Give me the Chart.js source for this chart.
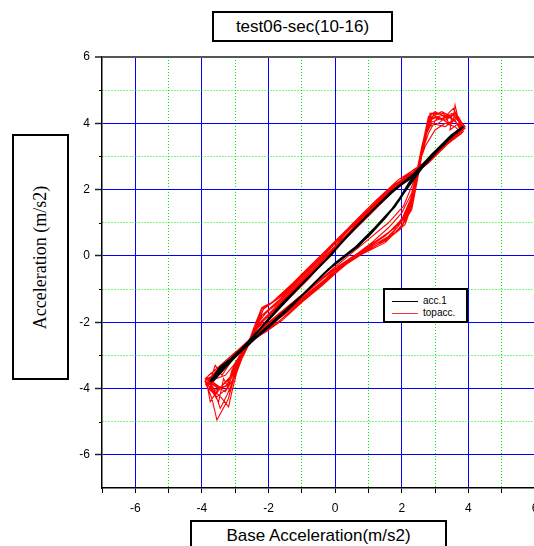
<!DOCTYPE html>
<html><head><meta charset="utf-8">
<script src="https://cdn.jsdelivr.net/npm/chart.js@4"></script>
<style>
html,body{margin:0;padding:0;background:#fff;overflow:hidden;width:534px;height:546px;}
#wrap{position:absolute;left:0;top:0;width:570px;height:546px;}
.box{position:absolute;border:2px solid #000;background:#fff;box-sizing:border-box;display:flex;align-items:center;justify-content:center;color:#000;}
.sans{font-family:'Liberation Sans',Arial,sans-serif;font-size:17px;font-weight:normal;}
.serif{font-family:'Liberation Serif','Times New Roman',serif;font-size:18px;font-weight:normal;}
.lg{position:absolute;font-family:'Liberation Sans',Arial,sans-serif;font-size:10px;line-height:10px;}
.ln{position:absolute;height:1px;width:26px;}
</style></head><body>
<div id="wrap"><canvas id="c"></canvas></div>
<div class="box sans" style="left:212px;top:11px;width:181px;height:31px;">test06-sec(10-16)</div>
<div class="box" style="left:12px;top:134px;width:57px;height:246px;"><span id="ytl" class="serif" style="transform:rotate(-90deg);white-space:nowrap;">Acceleration (m/s2)</span></div>
<div class="box sans" style="left:190px;top:520px;width:257px;height:40px;align-items:flex-start;padding-top:4px;">Base Acceleration(m/s2)</div>
<div class="box" style="left:383px;top:288px;width:85px;height:35px;display:block;">
  <div class="ln" style="left:7px;top:11px;background:#000;"></div><div class="lg" style="left:38px;top:6px;">acc.1</div>
  <div class="ln" style="left:7px;top:23px;background:#ff3030;"></div><div class="lg" style="left:38px;top:18px;">topacc.</div>
</div>
<script>
// size the serif y-axis title so its length is close to the reference (about 166 px)
(function(){
  const s = document.getElementById('ytl');
  const m = document.createElement('canvas').getContext('2d');
  m.font = "100px 'Liberation Serif', 'Times New Roman', serif";
  const w = m.measureText(s.textContent).width;
  const base = w > 0 ? Math.min(20, Math.max(15, 100 * 166 / w)) : 20;
  s.style.fontSize = (base * 0.9).toFixed(2) + 'px';
  s.style.fontFamily = "'Liberation Serif', 'Times New Roman', serif";
})();

const xTickRange = [-7, 6];
const yTickRange = [-7, 6];
const seriesNames = ['acc.1', 'topacc.'];

const blackLoop1 = [[-3.75,-3.8],[-3.3,-3.3],[-2.8,-2.85],[-2.3,-2.4],[-2.0,-2.15],[-1.4,-1.6],[-0.8,-1.0],[-0.2,-0.4],[0.0,-0.25],[0.5,0.15],[1.0,0.6],[1.5,1.15],[1.9,1.65],[2.25,2.2],[2.7,2.8],[3.2,3.3],[3.6,3.7],[3.85,3.9],[3.5,3.65],[3.0,3.15],[2.5,2.6],[2.2,2.3],[1.7,1.95],[1.2,1.45],[0.6,0.85],[0.1,0.3],[-0.1,0.05],[-0.7,-0.55],[-1.4,-1.25],[-2.0,-1.9],[-2.5,-2.5],[-3.0,-3.0],[-3.45,-3.35],[-3.75,-3.8]];
const blackLoop2 = [[-3.7,-3.7],[-3.2,-3.2],[-2.7,-2.75],[-2.2,-2.3],[-1.6,-1.75],[-1.0,-1.2],[-0.4,-0.6],[0.0,-0.22],[0.6,0.25],[1.2,0.85],[1.7,1.4],[2.2,2.1],[2.6,2.65],[3.1,3.2],[3.5,3.6],[3.8,3.85],[3.4,3.55],[2.9,3.05],[2.35,2.45],[1.9,2.1],[1.3,1.55],[0.7,0.95],[0.15,0.35],[-0.2,-0.05],[-0.9,-0.75],[-1.6,-1.45],[-2.2,-2.15],[-2.8,-2.8],[-3.3,-3.25],[-3.7,-3.75]];
const blackLoop3 = [[-3.65,-3.75],[-3.1,-3.15],[-2.6,-2.65],[-2.1,-2.2],[-1.5,-1.65],[-0.9,-1.1],[-0.3,-0.5],[0.05,-0.2],[0.7,0.3],[1.3,0.95],[1.8,1.5],[2.25,2.25],[2.75,2.85],[3.25,3.35],[3.7,3.8],[3.45,3.6],[2.95,3.1],[2.4,2.5],[1.8,2.0],[1.25,1.5],[0.65,0.9],[0.1,0.3],[-0.3,-0.15],[-1.0,-0.85],[-1.7,-1.6],[-2.3,-2.25],[-2.9,-2.9],[-3.4,-3.35],[-3.65,-3.75]];

const redLoop1 = [[-3.75,-3.75],[-3.5,-3.45],[-3.1,-3.05],[-2.6,-2.6],[-2.1,-2.2],[-1.5,-1.75],[-1.0,-1.35],[-0.4,-0.85],[0.0,-0.45],[0.6,0.0],[1.2,0.35],[1.7,0.65],[2.05,1.1],[2.3,1.7],[2.45,2.5],[2.6,3.2],[2.8,4.0],[3.2,4.15],[3.6,4.25],[3.8,3.9],[3.5,3.55],[3.0,3.0],[2.45,2.6],[2.0,2.3],[1.4,1.8],[0.9,1.3],[0.3,0.7],[-0.3,0.1],[-1.0,-0.6],[-1.7,-1.25],[-2.15,-1.6],[-2.35,-2.1],[-2.55,-2.6],[-2.8,-3.0],[-3.0,-3.4],[-3.2,-3.9],[-3.5,-4.0],[-3.8,-3.8]];
const redLoop2 = [[-3.7,-3.8],[-3.4,-3.35],[-3.0,-2.95],[-2.55,-2.55],[-2.0,-2.1],[-1.4,-1.6],[-0.9,-1.2],[-0.3,-0.7],[0.1,-0.3],[0.7,0.1],[1.3,0.5],[1.8,0.85],[2.15,1.35],[2.35,2.0],[2.5,2.6],[2.65,3.3],[2.85,4.1],[3.1,4.2],[3.4,4.0],[3.7,4.2],[3.9,3.85],[3.6,3.6],[3.1,3.1],[2.5,2.65],[1.9,2.2],[1.3,1.6],[0.8,1.1],[0.2,0.5],[-0.5,-0.2],[-1.2,-0.9],[-1.8,-1.5],[-2.2,-1.8],[-2.4,-2.2],[-2.6,-2.65],[-2.9,-3.2],[-3.05,-3.7],[-3.3,-4.1],[-3.6,-3.9],[-3.9,-3.7]];
const redLoop3 = [[-3.85,-3.75],[-3.45,-3.4],[-3.0,-3.0],[-2.5,-2.5],[-2.0,-2.05],[-1.3,-1.45],[-0.7,-0.95],[-0.1,-0.45],[0.5,-0.05],[1.1,0.4],[1.6,0.85],[2.0,1.3],[2.3,1.9],[2.45,2.55],[2.6,3.3],[2.75,3.9],[2.9,4.3],[3.2,4.1],[3.5,4.3],[3.75,4.0],[3.85,3.8],[3.4,3.45],[2.9,2.95],[2.4,2.5],[1.8,2.05],[1.2,1.45],[0.6,0.85],[0.0,0.25],[-0.6,-0.4],[-1.3,-1.1],[-1.9,-1.7],[-2.15,-1.95],[-2.35,-2.2],[-2.55,-2.55],[-2.85,-3.1],[-3.0,-3.5],[-3.3,-3.8],[-3.6,-4.2],[-3.8,-3.9]];
const redLoop4 = [[-3.7,-3.6],[-3.3,-3.25],[-2.9,-2.9],[-2.5,-2.55],[-1.9,-2.15],[-1.2,-1.55],[-0.6,-1.05],[0.0,-0.5],[0.6,-0.05],[1.3,0.35],[1.8,0.7],[2.1,1.05],[2.35,1.75],[2.5,2.55],[2.65,3.4],[2.8,4.15],[3.3,4.25],[3.55,4.1],[3.6,4.55],[3.7,4.1],[3.85,3.95],[3.55,3.65],[3.0,3.05],[2.4,2.55],[1.8,2.05],[1.0,1.4],[0.3,0.75],[-0.4,0.05],[-1.1,-0.65],[-1.8,-1.35],[-2.2,-1.55],[-2.4,-2.05],[-2.6,-2.6],[-2.9,-3.1],[-3.05,-3.6],[-3.2,-4.3],[-3.55,-4.95],[-3.7,-4.3],[-3.9,-3.8]];
const redLoop5 = [[-3.8,-3.85],[-3.5,-3.5],[-3.05,-3.05],[-2.6,-2.6],[-2.15,-2.25],[-1.6,-1.8],[-1.0,-1.3],[-0.4,-0.8],[0.2,-0.3],[0.8,0.15],[1.4,0.55],[1.9,0.95],[2.25,1.55],[2.4,2.3],[2.55,2.9],[2.7,3.6],[2.9,4.0],[3.3,3.9],[3.6,4.1],[3.8,3.7],[3.4,3.4],[2.85,2.85],[2.35,2.45],[1.7,2.05],[1.1,1.45],[0.5,0.8],[-0.1,0.1],[-0.8,-0.7],[-1.5,-1.4],[-2.05,-1.95],[-2.3,-2.15],[-2.5,-2.45],[-2.75,-2.95],[-2.95,-3.3],[-3.1,-3.8],[-3.4,-4.0],[-3.75,-3.75]];
const redLoop6 = [[-3.9,-3.7],[-3.55,-3.4],[-3.1,-3.0],[-2.55,-2.5],[-2.05,-2.15],[-1.5,-1.7],[-0.9,-1.25],[-0.3,-0.75],[0.3,-0.25],[0.9,0.15],[1.5,0.45],[1.95,0.8],[2.3,1.4],[2.45,2.2],[2.55,2.8],[2.7,3.5],[2.85,4.3],[3.1,4.3],[3.35,4.15],[3.6,4.3],[3.9,3.9],[3.65,3.7],[3.2,3.25],[2.7,2.8],[2.3,2.5],[1.7,2.1],[1.0,1.4],[0.3,0.7],[-0.3,0.05],[-1.0,-0.65],[-1.6,-1.25],[-2.1,-1.7],[-2.2,-1.8],[-2.4,-2.25],[-2.55,-2.65],[-2.85,-3.0],[-3.1,-3.45],[-3.25,-4.0],[-3.55,-4.25],[-3.85,-3.95]];
const redLoop7 = [[-3.7,-3.7],[-3.35,-3.3],[-2.95,-2.95],[-2.5,-2.5],[-2.0,-2.0],[-1.4,-1.5],[-0.8,-1.0],[-0.2,-0.5],[0.4,0.0],[1.0,0.5],[1.6,1.0],[2.05,1.5],[2.3,2.1],[2.5,2.7],[2.7,3.3],[3.0,3.8],[3.3,4.0],[3.6,3.9],[3.75,3.75],[3.3,3.3],[2.8,2.8],[2.3,2.4],[1.7,1.9],[1.1,1.3],[0.5,0.7],[-0.1,0.15],[-0.7,-0.45],[-1.4,-1.15],[-1.95,-1.7],[-2.25,-2.0],[-2.5,-2.5],[-2.8,-2.9],[-3.05,-3.3],[-3.3,-3.6],[-3.7,-3.75]];
const redLoop8 = [[-3.8,-3.9],[-3.6,-3.3],[-3.4,-3.6],[-3.0,-3.0],[-2.55,-2.6],[-2.1,-2.3],[-1.3,-1.65],[-0.5,-0.95],[0.1,-0.4],[0.8,0.05],[1.5,0.4],[2.0,0.9],[2.3,1.6],[2.45,2.45],[2.6,3.1],[2.75,3.8],[2.9,4.2],[3.2,4.35],[3.5,4.2],[3.45,3.8],[3.7,4.0],[3.85,3.75],[3.5,3.5],[3.0,3.05],[2.45,2.65],[1.9,2.3],[1.2,1.65],[0.5,0.95],[-0.2,0.2],[-0.9,-0.5],[-1.6,-1.2],[-2.15,-1.6],[-2.3,-1.95],[-2.5,-2.5],[-2.8,-3.05],[-3.0,-3.55],[-3.15,-4.1],[-3.35,-3.7],[-3.5,-4.4],[-3.75,-4.0],[-3.9,-3.75]];
const redLoop9 = [[-3.8,-3.6],[-3.45,-3.3],[-3.0,-2.9],[-2.55,-2.55],[-2.1,-2.3],[-1.6,-1.95],[-1.0,-1.4],[-0.4,-0.9],[0.1,-0.45],[0.7,0.05],[1.4,0.4],[1.9,0.9],[2.25,1.5],[2.4,2.1],[2.5,2.7],[2.65,3.5],[2.8,4.2],[3.0,4.35],[3.3,4.2],[3.55,4.45],[3.75,4.05],[3.9,3.9],[3.5,3.6],[3.0,3.0],[2.35,2.6],[1.75,2.1],[1.0,1.35],[0.4,0.7],[-0.1,0.1],[-0.5,-0.35],[-1.1,-0.95],[-1.7,-1.55],[-2.2,-2.0],[-2.35,-2.2],[-2.55,-2.6],[-2.8,-3.1],[-2.95,-3.5],[-3.1,-4.1],[-3.2,-4.55],[-3.4,-4.3],[-3.75,-3.95]];
const redLoop10 = [[-3.7,-3.85],[-3.3,-3.3],[-2.9,-2.85],[-2.5,-2.5],[-2.0,-2.15],[-1.5,-1.7],[-0.9,-1.2],[-0.2,-0.65],[0.4,-0.15],[1.0,0.3],[1.6,0.7],[2.0,1.1],[2.3,1.8],[2.45,2.5],[2.6,3.2],[2.8,3.9],[3.1,4.0],[3.4,4.25],[3.7,3.95],[3.8,3.8],[3.3,3.35],[2.8,2.9],[2.4,2.5],[1.8,2.1],[1.1,1.4],[0.5,0.8],[-0.2,0.1],[-0.9,-0.6],[-1.6,-1.3],[-2.1,-1.75],[-2.3,-2.0],[-2.5,-2.45],[-2.75,-2.9],[-3.0,-3.3],[-3.2,-3.75],[-3.5,-4.0],[-3.75,-4.4],[-3.85,-3.85]];
const redLoop11 = [[-3.9,-3.9],[-3.6,-3.5],[-3.2,-3.15],[-2.6,-2.6],[-2.05,-2.25],[-1.4,-1.6],[-0.8,-1.1],[-0.1,-0.55],[0.5,-0.1],[1.1,0.3],[1.7,0.6],[2.1,0.95],[2.35,1.65],[2.5,2.45],[2.6,3.0],[2.75,3.7],[2.95,4.25],[3.25,4.3],[3.45,3.95],[3.65,4.2],[3.85,3.85],[3.6,3.55],[3.1,3.15],[2.5,2.6],[2.0,2.25],[1.5,1.9],[0.9,1.3],[0.2,0.55],[-0.4,-0.2],[-1.1,-0.9],[-1.8,-1.6],[-2.15,-1.9],[-2.35,-2.15],[-2.6,-2.55],[-2.9,-3.05],[-3.05,-3.45],[-3.25,-3.9],[-3.6,-4.05],[-3.85,-3.7]];
const redLoop12 = [[-3.75,-3.65],[-3.4,-3.45],[-2.95,-3.0],[-2.55,-2.55],[-2.1,-2.1],[-1.5,-1.6],[-0.8,-1.05],[-0.2,-0.55],[0.3,-0.2],[0.9,0.2],[1.5,0.6],[2.0,1.05],[2.3,1.7],[2.45,2.4],[2.6,3.1],[2.8,3.7],[3.05,4.15],[3.35,4.1],[3.6,4.35],[3.8,3.9],[3.45,3.5],[2.95,3.0],[2.45,2.55],[1.85,2.2],[1.3,1.65],[0.7,1.05],[0.1,0.5],[-0.5,-0.05],[-1.2,-0.75],[-1.9,-1.4],[-2.2,-1.6],[-2.4,-2.15],[-2.6,-2.65],[-2.85,-3.05],[-3.0,-3.6],[-3.25,-4.2],[-3.45,-4.6],[-3.6,-4.15],[-3.8,-3.8]];

const blackLoops = [blackLoop1, blackLoop2, blackLoop3];
const redLoops = [redLoop1, redLoop2, redLoop3, redLoop4, redLoop5, redLoop6, redLoop7, redLoop8, redLoop9, redLoop10, redLoop11, redLoop12];
const toPts = loops => loops.flat().map(p => ({x: p[0], y: p[1]}));

const isMajor = v => Math.abs(v % 2) < 1e-9;

const minorTicks = {
  id: 'minorTicks',
  afterDraw(chart) {
    const {ctx, chartArea: a, scales} = chart;
    const y = scales.y;
    ctx.save();
    ctx.strokeStyle = '#000';
    ctx.lineWidth = 1;
    y.ticks.forEach(t => {
      if (isMajor(t.value) || t.value === yTickRange[0]) return;
      const p = Math.round(y.getPixelForValue(t.value)) + 0.5;
      ctx.beginPath(); ctx.moveTo(a.left - 3, p); ctx.lineTo(a.left, p); ctx.stroke();
    });
    ctx.restore();
  }
};

const gridColor = (axisMax) => (c) => {
  const v = c.tick ? c.tick.value : 0;
  if (v === axisMax) return '#555555';
  if (v === -7) return 'rgba(0,0,0,0)';
  return isMajor(v) ? '#0000ff' : '#00ee00';
};

new Chart(document.getElementById('c'), {
  type: 'scatter',
  data: {
    datasets: [
      {label: seriesNames[0], data: toPts(blackLoops), showLine: true, borderColor: '#000000', borderWidth: 2, pointRadius: 0, tension: 0, fill: false},
      {label: seriesNames[1], data: toPts(redLoops), showLine: true, borderColor: '#ff0000', borderWidth: 1.1, pointRadius: 0, tension: 0, fill: false}
    ]
  },
  options: {
    responsive: true,
    maintainAspectRatio: false,
    animation: false,
    layout: {padding: {left: 0, top: 57, right: 35, bottom: 0}},
    plugins: {legend: {display: false}, tooltip: {enabled: false}, title: {display: false}},
    scales: {
      x: {
        type: 'linear', min: xTickRange[0], max: xTickRange[1],
        afterFit: s => { s.height = 58; },
        border: {color: '#000', width: 1.5, dash: c => (c.tick && !isMajor(c.tick.value)) ? [1, 2] : []},
        grid: {color: gridColor(6), lineWidth: c => (c.tick && c.tick.value === 6) ? 2 : 1, tickLength: 5, tickColor: '#000', tickWidth: 1},
        ticks: {stepSize: 1, autoSkip: false, maxRotation: 0, padding: 8, color: '#000', font: {family: "'Liberation Sans', Arial, sans-serif", size: 12},
          callback: v => isMajor(v) ? String(v) : ''}
      },
      y: {
        type: 'linear', min: yTickRange[0], max: yTickRange[1],
        afterFit: s => { s.width = 102; },
        border: {color: '#000', width: 1.5, dash: c => (c.tick && !isMajor(c.tick.value)) ? [1, 2] : []},
        grid: {color: gridColor(6), lineWidth: c => (c.tick && c.tick.value === 6) ? 2 : 1, tickLength: 7,
          tickColor: c => (c.tick && isMajor(c.tick.value)) ? '#222' : 'rgba(0,0,0,0)', tickWidth: 1.5},
        ticks: {stepSize: 1, autoSkip: false, padding: 5, color: '#000', font: {family: "'Liberation Sans', Arial, sans-serif", size: 12},
          callback: v => isMajor(v) ? String(v) : ''}
      }
    }
  },
  plugins: [minorTicks]
});
</script>
</body></html>
